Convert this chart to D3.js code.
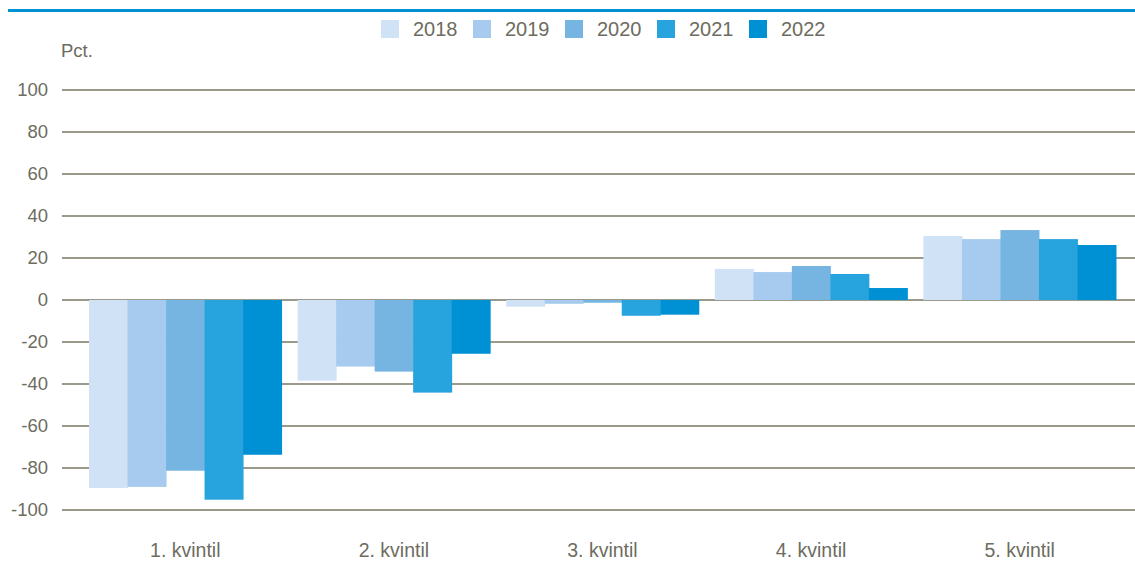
<!DOCTYPE html>
<html lang="da">
<head>
    <meta charset="UTF-8">
    <script src="https://d3js.org/d3.v7.min.js"></script>
    <style>
        body { margin: 0; background: #fff; }
        text { font-family: "Liberation Sans", Arial, sans-serif; fill: #6d6c60; }
    </style>
    <title>Kvintiler</title>
</head>
<body>
    <script>
        const width = 1135;
        const height = 564;

        // Data
        const categories = ["1. kvintil", "2. kvintil", "3. kvintil", "4. kvintil", "5. kvintil"];
        const years = ["2018", "2019", "2020", "2021", "2022"];
        const values2018 = [-89.5, -38.4, -3.2, 14.8, 30.5];
        const values2019 = [-89.0, -31.7, -1.8, 13.3, 29.0];
        const values2020 = [-81.3, -34.1, -1.3, 16.2, 33.3];
        const values2021 = [-95.1, -44.1, -7.5, 12.4, 29.0];
        const values2022 = [-73.7, -25.6, -7.0, 5.7, 26.2];
        const yTicks = [100, 80, 60, 40, 20, 0, -20, -40, -60, -80, -100];
        const colors = ["#d0e2f6", "#a6cbee", "#76b5e2", "#27a3dd", "#0091d5"];

        const series = [values2018, values2019, values2020, values2021, values2022];

        const svg = d3.select("body")
            .append("svg")
            .attr("width", width)
            .attr("height", height);

        // top blue rule
        svg.append("rect")
            .attr("x", 8).attr("y", 9)
            .attr("width", width - 8).attr("height", 3)
            .attr("fill", "#0091d5");

        const y = d3.scaleLinear().domain([-100, 100]).range([510, 90]);
        const x0 = d3.scaleBand().domain(categories).range([81, 1124]).paddingInner(0.077).paddingOuter(0.0385);
        const x1 = d3.scaleBand().domain(years).range([0, x0.bandwidth()]);

        // gridlines
        svg.append("g").selectAll("line")
            .data(yTicks).enter().append("line")
            .attr("x1", 62).attr("x2", width)
            .attr("y1", d => y(d)).attr("y2", d => y(d))
            .attr("stroke", "#9b998a").attr("stroke-width", 2);

        // y tick labels
        svg.append("g").selectAll("text")
            .data(yTicks).enter().append("text")
            .attr("x", 48).attr("y", d => y(d))
            .attr("dy", "0.35em")
            .attr("text-anchor", "end")
            .style("font-size", "18.5px")
            .text(d => d);

        svg.append("text")
            .attr("x", 61).attr("y", 57)
            .style("font-size", "18.5px")
            .text("Pct.");

        // bars
        const groups = svg.append("g").selectAll("g")
            .data(categories).enter().append("g")
            .attr("transform", d => `translate(${x0(d)},0)`);

        groups.selectAll("rect")
            .data((c, i) => years.map((yr, j) => ({ year: yr, value: series[j][i], color: colors[j] })))
            .enter().append("rect")
            .attr("x", d => x1(d.year))
            .attr("width", x1.bandwidth() + 0.5)
            .attr("y", d => y(Math.max(0, d.value)))
            .attr("height", d => Math.abs(y(d.value) - y(0)))
            .attr("fill", d => d.color);

        // category labels
        svg.append("g").selectAll("text")
            .data(categories).enter().append("text")
            .attr("x", d => x0(d) + x0.bandwidth() / 2)
            .attr("y", 557)
            .attr("text-anchor", "middle")
            .style("font-size", "19.5px")
            .text(d => d);

        // legend
        const legend = svg.append("g").selectAll("g")
            .data(years).enter().append("g")
            .attr("transform", (d, i) => `translate(${381 + i * 92},20)`);

        legend.append("rect")
            .attr("width", 18).attr("height", 18)
            .attr("fill", (d, i) => colors[i]);

        legend.append("text")
            .attr("x", 32).attr("y", 9)
            .attr("dy", "0.36em")
            .style("font-size", "20px")
            .text(d => d);
    </script>
</body>
</html>
